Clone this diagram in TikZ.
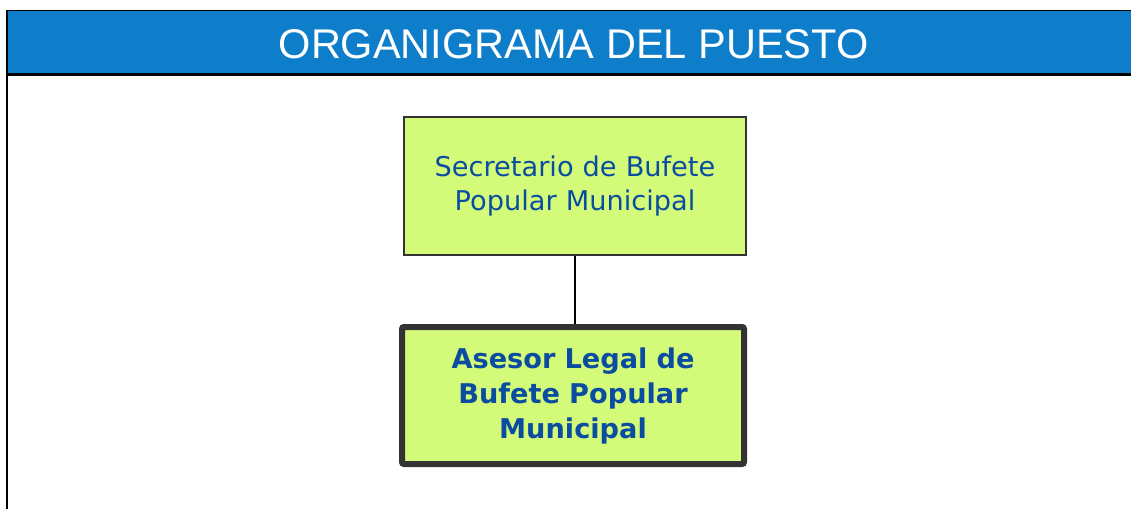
\documentclass[tikz,border=0pt]{standalone}
\usepackage{fontspec}
\setmainfont{DejaVu Sans}
\newfontfamily\titlefont{Liberation Sans}
\usepackage{tikz}
\usetikzlibrary{positioning}

\definecolor{headblue}{RGB}{14,126,203}
\definecolor{boxgreen}{RGB}{212,250,122}
\definecolor{boxtext}{RGB}{10,77,160}
\definecolor{boxline}{RGB}{51,51,51}

\begin{document}
\begin{tikzpicture}[x=1pt, y=1pt, puesto/.style={
		% The shape:
		rectangle,
		% The size:
		minimum width=342pt, minimum height=138pt, inner sep=0pt,
		% The border
		draw=boxline, line width=2pt,
		% The filling
		fill=boxgreen,
		% The text
		text=boxtext, text width=330pt, align=center,
		font=\fontsize{27.2}{34}\selectfont},
	actual/.style={puesto, line width=6pt, rounded corners=2pt,
		minimum height=137pt,
		font=\bfseries\fontsize{27.2}{35}\selectfont}]
    \useasboundingbox (0,0) rectangle (1131,-509);
    % header bar
    \fill [headblue] (7,-10) rectangle (1131,-75);
    \draw [line width=1.5pt] (7,-10.5) -- (1131,-10.5);
    \draw [line width=3pt] (7,-74.5) -- (1131,-74.5);
    \draw [line width=2.5pt] (7,-10) -- (7,-509);
    \node [anchor=base, text=white, inner sep=0pt, font=\titlefont\fontsize{41.5}{44}\selectfont] (title) at (573.5,-58) {ORGANIGRAMA DEL PUESTO};
    % the two posts
    \node [puesto] (secretario) at (575,-186) {Secretario de Bufete\\Popular Municipal};
    \node [actual] (asesor) at (573,-395.5) {Asesor Legal de\\Bufete Popular\\Municipal};
    \draw [line width=2.5pt] (secretario.south) -- (secretario.south |- asesor.north);
\end{tikzpicture}
\end{document}
